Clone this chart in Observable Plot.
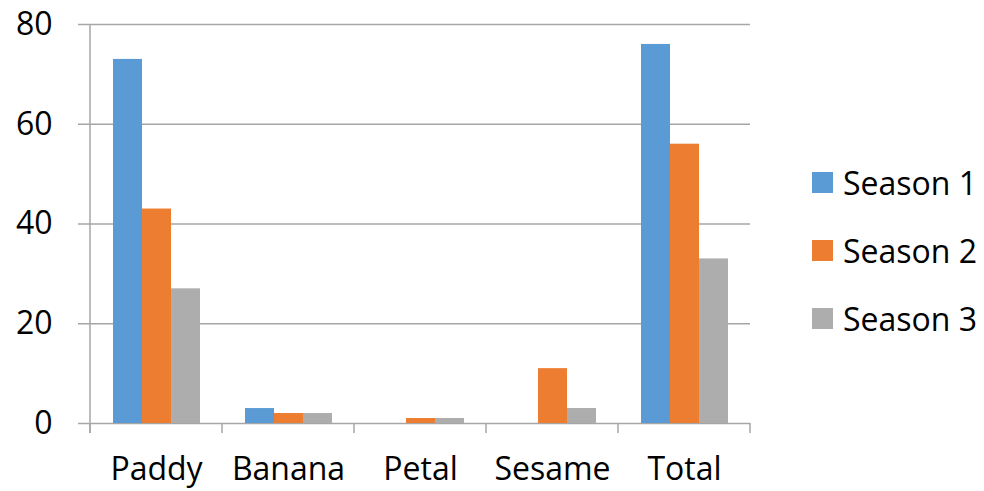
<!DOCTYPE html>
<html><head><meta charset="utf-8">
<script src="https://cdn.jsdelivr.net/npm/d3@7"></script>
<script src="https://cdn.jsdelivr.net/npm/@observablehq/plot@0.6"></script>
<style>
body{margin:0;background:#fff;}
#wrap{position:relative;width:984px;height:491px;font-family:"Open Sans",sans-serif;}
#legend{position:absolute;left:812px;top:148px;}
.item{display:flex;align-items:center;height:68px;font-size:32px;color:#000;white-space:nowrap;}
.sw{width:21px;height:21px;margin-right:10px;flex:none;}
</style></head><body><div id="wrap"></div>
<script>
const categories = ["Paddy", "Banana", "Petal", "Sesame", "Total"];
const seriesNames = ["Season 1", "Season 2", "Season 3"];
const season1 = [73, 3, 0, 0, 76];
const season2 = [43, 2, 1, 11, 56];
const season3 = [27, 2, 1, 3, 33];
const colors = ["#5B9BD5", "#ED7D31", "#ADADAD"];
const yTicks = [0, 20, 40, 60, 80];

const seriesValues = [season1, season2, season3];
const data = categories.flatMap((c, i) =>
  seriesNames.map((s, j) => ({category: c, series: s, value: seriesValues[j][i]})));

const axisColor = "#A6A6A6";
const chart = Plot.plot({
  width: 984, height: 491,
  marginLeft: 90, marginRight: 234, marginTop: 24, marginBottom: 68,
  style: {fontFamily: "'Open Sans', sans-serif", fontSize: "32px", color: "#000", background: "#fff"},
  fx: {domain: categories, padding: 0, label: null},
  x: {domain: seriesNames, paddingInner: 0, paddingOuter: 0.75, axis: null},
  y: {domain: [0, 80], label: null},
  color: {domain: seriesNames, range: colors},
  marks: [
    Plot.gridY(yTicks, {stroke: axisColor, strokeOpacity: 1, strokeWidth: 1.5}),
    Plot.axisY(yTicks, {tickSize: 12, tickPadding: 26, stroke: axisColor, strokeWidth: 1.5, fill: "#000", label: null, fontSize: 32}),
    Plot.barY(data, {fx: "category", x: "series", y: "value", fill: "series"}),
    Plot.axisFx({anchor: "bottom", tickSize: 0, tickPadding: 34, label: null, fontSize: 32, fill: "#000"})
  ]
});

// axis line and category boundary ticks from the library's scales
const fx = chart.scale("fx");
const y = chart.scale("y");
const y0 = y.apply(0);
const yTop = y.apply(80);
const edges = categories.map(c => fx.apply(c));
edges.push(fx.apply(categories[categories.length - 1]) + fx.bandwidth);
const g = d3.select(chart).append("g").attr("stroke", axisColor).attr("stroke-width", 1.5);
g.append("line").attr("x1", edges[0]).attr("x2", edges[0]).attr("y1", yTop).attr("y2", y0 + 10);
edges.forEach(e => g.append("line").attr("x1", e).attr("x2", e).attr("y1", y0).attr("y2", y0 + 10));

const wrap = document.getElementById("wrap");
wrap.appendChild(chart);
const legend = d3.select(wrap).append("div").attr("id", "legend");
seriesNames.forEach((s, i) => {
  const item = legend.append("div").attr("class", "item");
  item.append("div").attr("class", "sw").style("background", colors[i]);
  item.append("span").text(s);
});
</script>
</body></html>
